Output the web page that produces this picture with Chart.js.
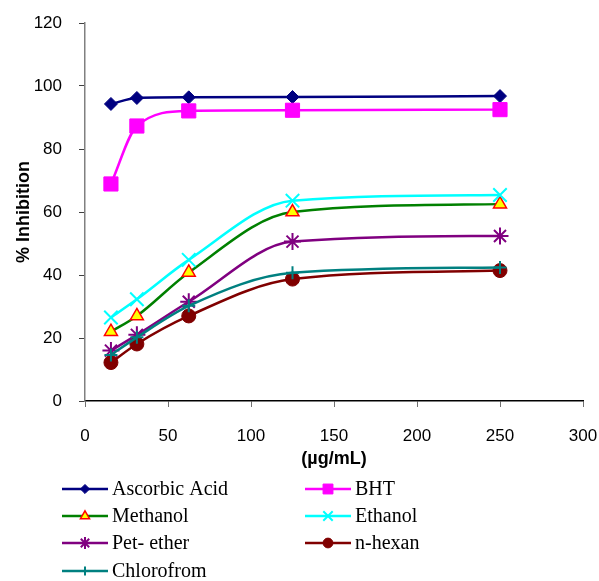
<!DOCTYPE html>
<html>
<head>
<meta charset="utf-8">
<script src="https://cdn.jsdelivr.net/npm/chart.js@4"></script>
<style>
  html, body { margin: 0; padding: 0; background: #fff; }
  #wrap { width: 599px; height: 581px; }
</style>
</head>
<body>
<div id="wrap"><canvas id="inhibition"></canvas></div>
<script>
// concentrations (µg/mL)
const conc = [15.625, 31.25, 62.5, 125, 250];

const seriesNames = ['Ascorbic Acid', 'BHT', 'Methanol', 'Ethanol', 'Pet- ether', 'n-hexan', 'Chlorofrom'];

const ascorbic = [94.3, 96.2, 96.4, 96.5, 96.8];
const bht = [68.9, 87.3, 92.1, 92.3, 92.5];
const methanol = [22.0, 27.0, 40.8, 60.0, 62.5];
const ethanol = [26.5, 32.3, 44.8, 63.6, 65.4];
const petEther = [16.0, 21.0, 31.5, 50.6, 52.4];
const nHexan = [12.2, 18.1, 27.0, 38.7, 41.4];
const chloroform = [14.6, 20.2, 30.2, 40.7, 42.4];

const xTicks = [0, 50, 100, 150, 200, 250, 300];
const yTicks = [0, 20, 40, 60, 80, 100, 120];

const allValues = [ascorbic, bht, methanol, ethanol, petEther, nHexan, chloroform];

const styles = [
  { line: '#000080', fill: '#000080', point: 'rectRot', r: 6.5 },
  { line: '#ff00ff', fill: '#ff00ff', point: 'rect', r: 10 },
  { line: '#008000', fill: '#ffff00', border: '#ff0000', point: 'triangle', r: 7.5 },
  { line: '#00ffff', fill: '#00ffff', point: 'crossRot', r: 9.5 },
  { line: '#800080', fill: '#800080', point: 'star', r: 8.5 },
  { line: '#800000', fill: '#800000', point: 'circle', r: 7 },
  { line: '#008080', fill: '#008080', point: 'cross', r: 6.5 }
];

const datasets = seriesNames.map((name, i) => {
  const s = styles[i];
  return {
    label: name,
    data: conc.map((c, j) => ({ x: c, y: allValues[i][j] })),
    showLine: true,
    borderColor: s.line,
    borderWidth: 2.5,
    cubicInterpolationMode: 'monotone',
    pointStyle: s.point,
    pointRadius: s.r,
    pointHoverRadius: s.r,
    pointBackgroundColor: s.fill,
    pointBorderColor: s.border || s.fill,
    pointBorderWidth: s.border ? 1.5 : (s.point === 'crossRot' || s.point === 'cross' || s.point === 'star' ? 2 : 1),
    order: seriesNames.length - i
  };
});

// two-column legend under the plot
const legendPlugin = {
  id: 'twoColLegend',
  afterDraw(chart) {
    const ctx = chart.ctx;
    const rows = [489, 516, 543, 571];
    const cols = [62, 305];
    ctx.save();
    ctx.font = '20px "Liberation Serif", serif';
    ctx.textBaseline = 'middle';
    chart.data.datasets.forEach((ds, i) => {
      const x0 = cols[i % 2];
      const y = rows[Math.floor(i / 2)];
      ctx.strokeStyle = ds.borderColor;
      ctx.lineWidth = 2.5;
      ctx.beginPath();
      ctx.moveTo(x0, y);
      ctx.lineTo(x0 + 46, y);
      ctx.stroke();
      ctx.fillStyle = ds.pointBackgroundColor;
      ctx.strokeStyle = ds.pointBorderColor;
      ctx.lineWidth = ds.pointBorderWidth;
      Chart.helpers.drawPoint(ctx, {
        pointStyle: ds.pointStyle,
        radius: ds.pointRadius * 0.7,
        rotation: 0,
        borderWidth: ds.pointBorderWidth
      }, x0 + 23, y);
      ctx.fillStyle = '#000';
      ctx.fillText(ds.label, x0 + 50, y + 1);
    });
    ctx.restore();
  }
};

// fixed axis sizes, no label overflow padding
function fixSize(size) {
  return axis => {
    if (axis.isHorizontal()) axis.height = size; else axis.width = size;
    axis.paddingLeft = 0; axis.paddingRight = 0;
    axis.paddingTop = 0; axis.paddingBottom = 0;
  };
}

new Chart(document.getElementById('inhibition'), {
  type: 'scatter',
  data: { datasets: datasets },
  options: {
    responsive: true,
    maintainAspectRatio: false,
    animation: false,
    layout: { padding: { top: 23, right: 16, left: 13, bottom: 111 } },
    plugins: {
      legend: { display: false },
      tooltip: { enabled: false }
    },
    scales: {
      x: {
        type: 'linear',
        min: 0,
        max: 300,
        afterBuildTicks: axis => { axis.ticks = xTicks.map(v => ({ value: v })); },
        afterFit: fixSize(69),
        border: { color: '#000', width: 1.5 },
        grid: { drawOnChartArea: false, color: '#707070', tickLength: 6 },
        ticks: { color: '#000', font: { family: '"Liberation Sans", Arial', size: 17 }, padding: 19 },
        title: {
          display: true,
          text: '(µg/mL)',
          color: '#000',
          font: { family: '"Liberation Sans", Arial', size: 18, weight: 'bold' },
          padding: { top: 0, bottom: 0 }
        }
      },
      y: {
        min: 0,
        max: 120,
        afterBuildTicks: axis => { axis.ticks = yTicks.map(v => ({ value: v })); },
        afterFit: fixSize(72),
        border: { color: '#808080', width: 1.5 },
        grid: { drawOnChartArea: false, color: '#404040', tickLength: 6 },
        ticks: { color: '#000', font: { family: '"Liberation Sans", Arial', size: 17 }, padding: 17 },
        title: {
          display: true,
          text: '% Inhibition',
          color: '#000',
          font: { family: '"Liberation Sans", Arial', size: 18, weight: 'bold' },
          padding: { top: 0, bottom: 2 }
        }
      }
    }
  },
  plugins: [legendPlugin]
});
</script>
</body>
</html>
